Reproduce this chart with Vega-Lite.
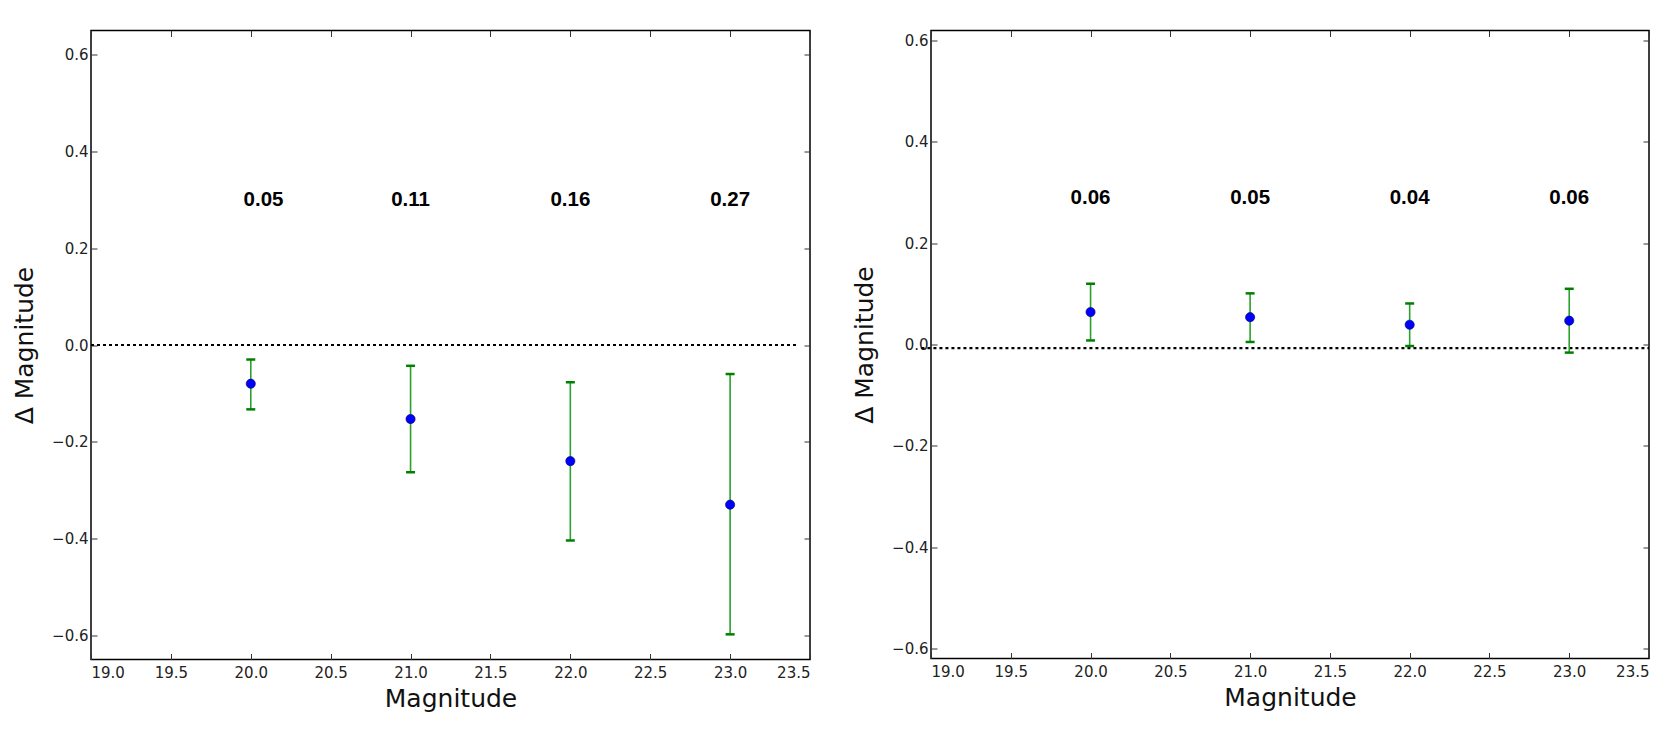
{
  "$schema": "https://vega.github.io/schema/vega-lite/v6.json",
  "autosize": {"type": "pad"},
  "padding": {"left": 11, "top": 28.5, "right": 26, "bottom": 18},
  "background": "white",
  "bounds": "flush",
  "spacing": 121,
  "datasets": {
    "left": [
      {"mag": 20, "delta": -0.08, "lo": -0.133, "hi": -0.03},
      {"mag": 21, "delta": -0.153, "lo": -0.263, "hi": -0.043},
      {"mag": 22, "delta": -0.24, "lo": -0.404, "hi": -0.077},
      {"mag": 23, "delta": -0.33, "lo": -0.598, "hi": -0.06}
    ],
    "left0": [{"x1": 19.0, "x2": 23.42, "y": 0}],
    "leftlab": [
      {"mag": 20.08, "y": 0.3, "label": "0.05"},
      {"mag": 21, "y": 0.3, "label": "0.11"},
      {"mag": 22, "y": 0.3, "label": "0.16"},
      {"mag": 23, "y": 0.3, "label": "0.27"}
    ],
    "right": [
      {"mag": 20, "delta": 0.064, "lo": 0.008, "hi": 0.12},
      {"mag": 21, "delta": 0.054, "lo": 0.005, "hi": 0.101},
      {"mag": 22, "delta": 0.039, "lo": -0.003, "hi": 0.081},
      {"mag": 23, "delta": 0.047, "lo": -0.016, "hi": 0.11}
    ],
    "right0": [{"x1": 18.94, "x2": 23.5, "y": -0.007}],
    "rightlab": [
      {"mag": 20, "y": 0.29, "label": "0.06"},
      {"mag": 21, "y": 0.29, "label": "0.05"},
      {"mag": 22, "y": 0.29, "label": "0.04"},
      {"mag": 23, "y": 0.29, "label": "0.06"}
    ]
  },
  "config": {
    "view": {"stroke": "#000000", "strokeWidth": 1.5},
    "axis": {
      "grid": false,
      "domain": false,
      "tickSize": -6,
      "tickColor": "#333333",
      "tickWidth": 1,
      "labelFont": "DejaVu Sans",
      "labelFontSize": 15,
      "labelColor": "#222222",
      "titleFont": "DejaVu Sans",
      "titleFontSize": 25,
      "titleFontWeight": "normal",
      "titleColor": "#111111"
    }
  },
  "hconcat": [
    {
      "width": 719,
      "height": 629,
      "resolve": {"axis": {"x": "independent", "y": "independent"}},
      "layer": [
        {
          "data": {"name": "left0"},
          "mark": {"type": "rule", "strokeDash": [3, 3], "strokeWidth": 2.2, "color": "#000000"},
          "encoding": {
            "x": {"field": "x1", "type": "quantitative", "scale": {"domain": [19, 23.5], "nice": false},
              "axis": {"orient": "bottom", "values": [19, 19.5, 20, 20.5, 21, 21.5, 22, 22.5, 23, 23.5], "format": ".1f", "title": "Magnitude", "labelPadding": 12, "titlePadding": 6}},
            "x2": {"field": "x2"},
            "y": {"field": "y", "type": "quantitative", "scale": {"domain": [-0.65, 0.65], "nice": false},
              "axis": {"orient": "left", "values": [-0.6, -0.4, -0.2, 0, 0.2, 0.4, 0.6], "format": ".1f", "title": "Δ Magnitude", "labelPadding": 9, "titlePadding": 14}}
          }
        },
        {
          "data": {"name": "left"},
          "mark": {"type": "rule", "color": "#2ca02c", "strokeWidth": 1.6},
          "encoding": {
            "x": {"field": "mag", "type": "quantitative",
              "axis": {"orient": "top", "values": [19, 19.5, 20, 20.5, 21, 21.5, 22, 22.5, 23, 23.5], "labels": false, "title": null}},
            "y": {"field": "lo", "type": "quantitative",
              "axis": {"orient": "right", "values": [-0.6, -0.4, -0.2, 0, 0.2, 0.4, 0.6], "labels": false, "title": null}},
            "y2": {"field": "hi"}
          }
        },
        {
          "data": {"name": "left"},
          "mark": {"type": "tick", "orient": "horizontal", "size": 9, "thickness": 2.5, "color": "#008000", "opacity": 1},
          "encoding": {
            "x": {"field": "mag", "type": "quantitative", "axis": null},
            "y": {"field": "lo", "type": "quantitative", "axis": null}
          }
        },
        {
          "data": {"name": "left"},
          "mark": {"type": "tick", "orient": "horizontal", "size": 9, "thickness": 2.5, "color": "#008000", "opacity": 1},
          "encoding": {
            "x": {"field": "mag", "type": "quantitative", "axis": null},
            "y": {"field": "hi", "type": "quantitative", "axis": null}
          }
        },
        {
          "data": {"name": "left"},
          "mark": {"type": "circle", "size": 85, "fill": "#0000ff", "stroke": "#00005a", "strokeWidth": 0.6, "opacity": 1},
          "encoding": {
            "x": {"field": "mag", "type": "quantitative", "axis": null},
            "y": {"field": "delta", "type": "quantitative", "axis": null}
          }
        },
        {
          "data": {"name": "leftlab"},
          "mark": {"type": "text", "font": "Liberation Sans", "fontWeight": "bold", "fontSize": 20.5, "align": "center", "baseline": "middle", "color": "#000000"},
          "encoding": {
            "x": {"field": "mag", "type": "quantitative", "axis": null},
            "y": {"field": "y", "type": "quantitative", "axis": null},
            "text": {"field": "label"}
          }
        }
      ]
    },
    {
      "width": 718,
      "height": 628,
      "resolve": {"axis": {"x": "independent", "y": "independent"}},
      "layer": [
        {
          "data": {"name": "right0"},
          "mark": {"type": "rule", "strokeDash": [3, 3], "strokeWidth": 2.2, "color": "#000000"},
          "encoding": {
            "x": {"field": "x1", "type": "quantitative", "scale": {"domain": [19, 23.5], "nice": false},
              "axis": {"orient": "bottom", "values": [19, 19.5, 20, 20.5, 21, 21.5, 22, 22.5, 23, 23.5], "format": ".1f", "title": "Magnitude", "labelPadding": 12, "titlePadding": 6}},
            "x2": {"field": "x2"},
            "y": {"field": "y", "type": "quantitative", "scale": {"domain": [-0.62, 0.62], "nice": false},
              "axis": {"orient": "left", "values": [-0.6, -0.4, -0.2, 0, 0.2, 0.4, 0.6], "format": ".1f", "title": "Δ Magnitude", "labelPadding": 9, "titlePadding": 14}}
          }
        },
        {
          "data": {"name": "right"},
          "mark": {"type": "rule", "color": "#2ca02c", "strokeWidth": 1.6},
          "encoding": {
            "x": {"field": "mag", "type": "quantitative",
              "axis": {"orient": "top", "values": [19, 19.5, 20, 20.5, 21, 21.5, 22, 22.5, 23, 23.5], "labels": false, "title": null}},
            "y": {"field": "lo", "type": "quantitative",
              "axis": {"orient": "right", "values": [-0.6, -0.4, -0.2, 0, 0.2, 0.4, 0.6], "labels": false, "title": null}},
            "y2": {"field": "hi"}
          }
        },
        {
          "data": {"name": "right"},
          "mark": {"type": "tick", "orient": "horizontal", "size": 9, "thickness": 2.5, "color": "#008000", "opacity": 1},
          "encoding": {
            "x": {"field": "mag", "type": "quantitative", "axis": null},
            "y": {"field": "lo", "type": "quantitative", "axis": null}
          }
        },
        {
          "data": {"name": "right"},
          "mark": {"type": "tick", "orient": "horizontal", "size": 9, "thickness": 2.5, "color": "#008000", "opacity": 1},
          "encoding": {
            "x": {"field": "mag", "type": "quantitative", "axis": null},
            "y": {"field": "hi", "type": "quantitative", "axis": null}
          }
        },
        {
          "data": {"name": "right"},
          "mark": {"type": "circle", "size": 85, "fill": "#0000ff", "stroke": "#00005a", "strokeWidth": 0.6, "opacity": 1},
          "encoding": {
            "x": {"field": "mag", "type": "quantitative", "axis": null},
            "y": {"field": "delta", "type": "quantitative", "axis": null}
          }
        },
        {
          "data": {"name": "rightlab"},
          "mark": {"type": "text", "font": "Liberation Sans", "fontWeight": "bold", "fontSize": 20.5, "align": "center", "baseline": "middle", "color": "#000000"},
          "encoding": {
            "x": {"field": "mag", "type": "quantitative", "axis": null},
            "y": {"field": "y", "type": "quantitative", "axis": null},
            "text": {"field": "label"}
          }
        }
      ]
    }
  ]
}
